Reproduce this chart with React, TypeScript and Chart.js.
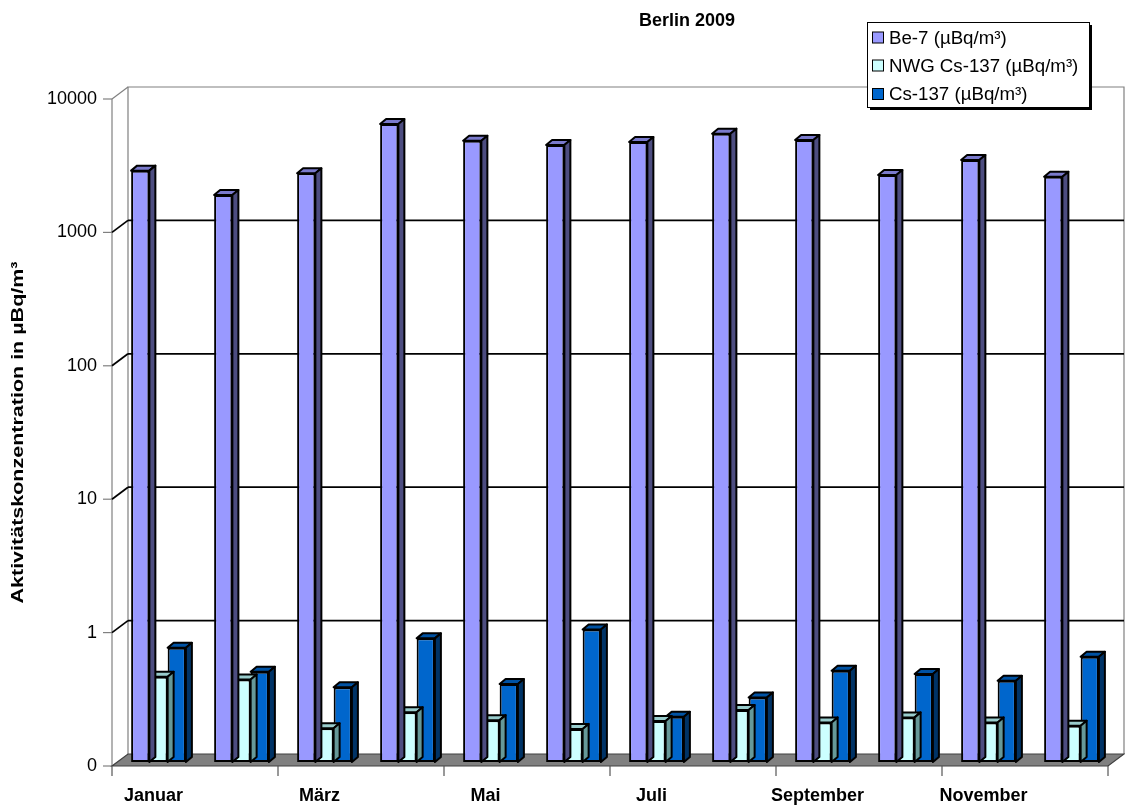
import React, { useEffect, useRef } from "react";
import { Chart, registerables } from "chart.js";

Chart.register(...registerables);

// ---------- data ----------
const months = [
  "Januar", "Februar", "März", "April", "Mai", "Juni",
  "Juli", "August", "September", "Oktober", "November", "Dezember",
];
const be7 = [2710, 1780, 2590, 6060, 4540, 4220, 4440, 5130, 4600, 2510, 3260, 2440];
const nwgCs137 = [0.436, 0.416, 0.179, 0.236, 0.206, 0.177, 0.203, 0.245, 0.198, 0.216, 0.198, 0.187];
const cs137 = [0.718, 0.475, 0.363, 0.845, 0.384, 0.986, 0.218, 0.305, 0.483, 0.456, 0.406, 0.615];
const yTickValues = [0.1, 1, 10, 100, 1000, 10000];
const seriesLabels = ["Be-7 (µBq/m³)", "NWG Cs-137 (µBq/m³)", "Cs-137 (µBq/m³)"];
const chartTitle = "Berlin 2009";
const yAxisTitle = "Aktivitätskonzentration in µBq/m³";

// ---------- styles ----------
const FONT = "'Liberation Sans', Arial, Helvetica, sans-serif";
const DEPTH = { x: 16, y: -12 };
const BAR_SHIFT = { x: 5, y: -4 };
const BAR_DEPTH = { x: 6, y: -5 };
const faceColors = [
  { front: "#9999ff", top: "#7a7acc", side: "#4d4d80" },
  { front: "#ccffff", top: "#99cccc", side: "#669999" },
  { front: "#0066cc", top: "#0052a3", side: "#003366" },
];

function line(ctx: CanvasRenderingContext2D, x1: number, y1: number, x2: number, y2: number) {
  ctx.beginPath();
  ctx.moveTo(x1, y1);
  ctx.lineTo(x2, y2);
  ctx.stroke();
}

const threeDPlugin = {
  id: "threeD",
  beforeDatasetsDraw(chart: any) {
    const { ctx, chartArea: a, scales } = chart;
    const ys = scales.y;
    const L = a.left, R = a.right, B = a.bottom;
    const T = ys.getPixelForValue(yTickValues[yTickValues.length - 1]);
    ctx.save();
    // back wall
    ctx.fillStyle = "#ffffff";
    ctx.fillRect(L + DEPTH.x, T + DEPTH.y, R - L, B - T);
    ctx.strokeStyle = "#808080";
    ctx.lineWidth = 1.2;
    ctx.beginPath();
    ctx.moveTo(L + DEPTH.x, B + DEPTH.y);
    ctx.lineTo(L + DEPTH.x, T + DEPTH.y);
    ctx.lineTo(R + DEPTH.x, T + DEPTH.y);
    ctx.lineTo(R + DEPTH.x, B + DEPTH.y);
    ctx.stroke();
    // front vertical axis line
    line(ctx, L, T, L, B);
    // grid lines + diagonals + tick marks
    yTickValues.forEach((v, i) => {
      const py = ys.getPixelForValue(v);
      const isTop = i === yTickValues.length - 1;
      const isBottom = i === 0;
      ctx.strokeStyle = "#808080";
      ctx.lineWidth = 1.2;
      line(ctx, L - 9, py, L, py);
      if (!isBottom) {
        ctx.strokeStyle = isTop ? "#808080" : "#000000";
        ctx.lineWidth = isTop ? 1.2 : 1.7;
        line(ctx, L, py, L + DEPTH.x, py + DEPTH.y);
        if (!isTop) line(ctx, L + DEPTH.x, py + DEPTH.y, R + DEPTH.x, py + DEPTH.y);
      }
    });
    // floor
    ctx.fillStyle = "#808080";
    ctx.strokeStyle = "#404040";
    ctx.lineWidth = 1.2;
    ctx.beginPath();
    ctx.moveTo(L, B);
    ctx.lineTo(R, B);
    ctx.lineTo(R + DEPTH.x, B + DEPTH.y);
    ctx.lineTo(L + DEPTH.x, B + DEPTH.y);
    ctx.closePath();
    ctx.fill();
    ctx.stroke();
    // x tick marks every 2 categories
    ctx.strokeStyle = "#555555";
    const n = months.length;
    const step = (R - L) / n;
    for (let i = 0; i <= n; i += 2) {
      const px = L + i * step;
      line(ctx, px, B, px, B + 10);
    }
    ctx.restore();
    // shift bars into the depth of the floor
    ctx.save();
    ctx.translate(BAR_SHIFT.x, BAR_SHIFT.y);
  },
  afterDatasetDraw(chart: any, args: any) {
    const { ctx } = chart;
    const c = faceColors[args.index];
    ctx.save();
    ctx.lineWidth = 2;
    ctx.strokeStyle = "#000000";
    ctx.lineJoin = "round";
    args.meta.data.forEach((el: any) => {
      const { x, y, base, width } = el.getProps(["x", "y", "base", "width"], true);
      const l = x - width / 2, r = x + width / 2;
      // top face
      ctx.fillStyle = c.top;
      ctx.beginPath();
      ctx.moveTo(l, y);
      ctx.lineTo(l + BAR_DEPTH.x, y + BAR_DEPTH.y);
      ctx.lineTo(r + BAR_DEPTH.x, y + BAR_DEPTH.y);
      ctx.lineTo(r, y);
      ctx.closePath();
      ctx.fill();
      ctx.stroke();
      // side face
      ctx.fillStyle = c.side;
      ctx.beginPath();
      ctx.moveTo(r, y);
      ctx.lineTo(r + BAR_DEPTH.x, y + BAR_DEPTH.y);
      ctx.lineTo(r + BAR_DEPTH.x, base + BAR_DEPTH.y);
      ctx.lineTo(r, base);
      ctx.closePath();
      ctx.fill();
      ctx.stroke();
    });
    ctx.restore();
  },
  afterDatasetsDraw(chart: any) {
    chart.ctx.restore();
  },
  afterDraw(chart: any) {
    const { ctx, chartArea: a } = chart;
    ctx.save();
    ctx.fillStyle = "#000000";
    // title
    ctx.font = `bold 18px ${FONT}`;
    ctx.textAlign = "center";
    ctx.textBaseline = "middle";
    ctx.fillText(chartTitle, 687, 21);
    // y-axis title (rotated)
    ctx.save();
    ctx.translate(18, (a.top + a.bottom) / 2);
    ctx.rotate(-Math.PI / 2);
    ctx.font = `bold 17px ${FONT}`;
    const w = ctx.measureText(yAxisTitle).width;
    ctx.scale(342 / w, 1);
    ctx.fillText(yAxisTitle, 0, 0);
    ctx.restore();
    // legend
    const bx = 867, by = 22, bw = 222, bh = 85;
    ctx.fillStyle = "#000000";
    ctx.fillRect(bx + 3, by + 3, bw, bh);
    ctx.fillStyle = "#ffffff";
    ctx.fillRect(bx, by, bw, bh);
    ctx.strokeStyle = "#000000";
    ctx.lineWidth = 1;
    ctx.strokeRect(bx + 0.5, by + 0.5, bw, bh);
    const rows = [37.5, 65.5, 94];
    ctx.font = `18.7px ${FONT}`;
    ctx.textAlign = "left";
    seriesLabels.forEach((lab, i) => {
      const ry = rows[i];
      ctx.fillStyle = faceColors[i].front;
      ctx.fillRect(872, ry - 5.5, 11, 11);
      ctx.strokeRect(872.5, ry - 5.5, 11, 11);
      ctx.fillStyle = "#000000";
      ctx.fillText(lab, 889, ry + 1);
    });
    ctx.restore();
  },
};

export default function App() {
  const canvasRef = useRef<HTMLCanvasElement | null>(null);

  useEffect(() => {
    const canvas = canvasRef.current;
    if (!canvas) return;
    const series = [be7, nwgCs137, cs137];
    const chart = new Chart(canvas, {
      type: "bar",
      data: {
        labels: months,
        datasets: series.map((d, i) => ({
          label: seriesLabels[i],
          data: d,
          backgroundColor: faceColors[i].front,
          borderColor: "#000000",
          borderWidth: 2,
          borderSkipped: false,
          categoryPercentage: 0.66,
          barPercentage: 1.0,
          clip: false,
        })),
      },
      options: {
        responsive: false,
        animation: false,
        devicePixelRatio: 1,
        layout: { padding: { left: 0, right: 17, top: 99, bottom: 0 } },
        plugins: {
          legend: { display: false },
          title: { display: false },
          tooltip: { enabled: false },
        },
        scales: {
          x: {
            type: "category",
            grid: { display: false, drawTicks: false, tickLength: 0 },
            border: { display: false },
            ticks: {
              autoSkip: false,
              maxRotation: 0,
              minRotation: 0,
              padding: 19,
              color: "#000000",
              font: { family: FONT, size: 18, weight: "bold" },
              callback: (_v: any, i: number) => (i % 2 === 0 ? months[i] : ""),
            },
            afterFit: (s: any) => {
              s.height = 39;
            },
          },
          y: {
            type: "logarithmic",
            min: 0.1,
            max: 10000,
            grid: { display: false, drawTicks: false, tickLength: 0 },
            border: { display: false },
            afterBuildTicks: (s: any) => {
              s.ticks = yTickValues.map((v) => ({ value: v }));
            },
            ticks: {
              padding: 15,
              color: "#000000",
              font: { family: FONT, size: 18 },
              callback: (v: any) => (Number(v) < 0.5 ? "0" : String(Number(v))),
            },
            afterFit: (s: any) => {
              s.width = 112;
            },
          },
        },
      },
      plugins: [threeDPlugin],
    } as any);
    return () => chart.destroy();
  }, []);

  return (
    <div style={{ position: "fixed", left: 0, top: 0, width: 1125, height: 805, background: "#ffffff" }}>
      <canvas ref={canvasRef} width={1125} height={805} style={{ display: "block", width: 1125, height: 805 }} />
    </div>
  );
}
